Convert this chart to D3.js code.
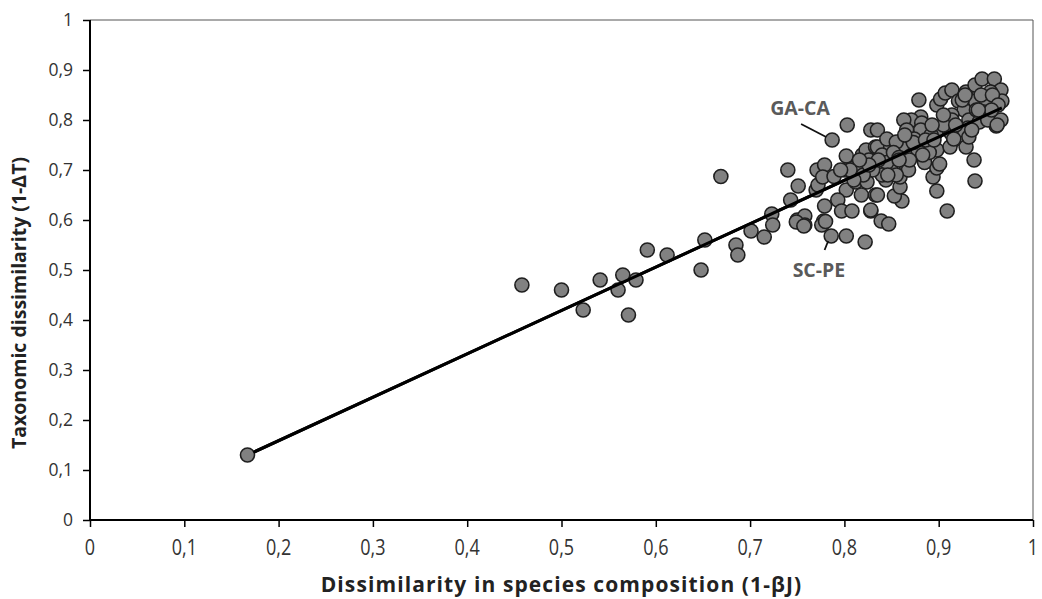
<!DOCTYPE html>
<html>
<head>
<meta charset="utf-8">
<script src="https://cdn.jsdelivr.net/npm/d3@7"></script>
<style>
  html, body { margin: 0; padding: 0; background: #fff; }
  svg { display: block; }
</style>
</head>
<body>
<svg id="chart" width="1042" height="599"></svg>
<script>
// ---------- data ----------
const xTicks = [0, 0.1, 0.2, 0.3, 0.4, 0.5, 0.6, 0.7, 0.8, 0.9, 1];
const yTicks = [0, 0.1, 0.2, 0.3, 0.4, 0.5, 0.6, 0.7, 0.8, 0.9, 1];
const xTitle = "Dissimilarity in species composition (1-βJ)";
const yTitle = "Taxonomic dissimilarity (1-ΔT)";

// species composition dissimilarity (x)
const xVals = [
  0.167, 0.458, 0.500, 0.523, 0.541, 0.560, 0.565, 0.571, 0.579, 0.591,
  0.612, 0.648, 0.652, 0.669, 0.685, 0.687, 0.701, 0.715, 0.723, 0.724,
  0.740, 0.743, 0.751, 0.750, 0.758, 0.758, 0.749, 0.757, 0.770, 0.772,
  0.771, 0.779, 0.777, 0.789, 0.779, 0.778, 0.776, 0.780, 0.786, 0.787,
  0.802, 0.801, 0.802, 0.793, 0.797, 0.808, 0.812, 0.819, 0.823, 0.812,
  0.824, 0.818, 0.828, 0.833, 0.833, 0.802, 0.822, 0.803, 0.9375, 0.9385,
  0.909, 0.898, 0.894, 0.898, 0.901, 0.861, 0.853, 0.835, 0.828, 0.839,
  0.847, 0.859, 0.859, 0.844, 0.837, 0.849, 0.866, 0.868, 0.885, 0.898,
  0.835, 0.849, 0.861, 0.877, 0.916, 0.929, 0.912, 0.833, 0.847, 0.879,
  0.898, 0.902, 0.907, 0.914, 0.921, 0.929, 0.9385, 0.946, 0.959, 0.9385,
  0.950, 0.966, 0.967, 0.955, 0.927, 0.914, 0.914, 0.948, 0.932, 0.943,
  0.966, 0.961, 0.931, 0.922, 0.913, 0.901, 0.897, 0.881, 0.871, 0.863,
  0.882, 0.866, 0.881, 0.874, 0.892, 0.916, 0.932, 0.828, 0.835, 0.845,
  0.855, 0.815, 0.826, 0.840, 0.845, 0.852, 0.858, 0.870, 0.878, 0.885,
  0.890, 0.873, 0.864, 0.855, 0.840, 0.830, 0.820, 0.810, 0.905, 0.918,
  0.925, 0.945, 0.957, 0.963, 0.952, 0.940, 0.928, 0.905, 0.893, 0.883,
  0.869, 0.858, 0.846, 0.836, 0.826, 0.816, 0.806, 0.796, 0.886, 0.895,
  0.956, 0.962, 0.935, 0.942
];
// taxonomic dissimilarity (y)
const yVals = [
  0.130, 0.470, 0.460, 0.420, 0.480, 0.460, 0.490, 0.410, 0.480, 0.540,
  0.530, 0.500, 0.560, 0.687, 0.550, 0.530, 0.578, 0.566, 0.612, 0.590,
  0.700, 0.640, 0.668, 0.600, 0.608, 0.590, 0.596, 0.588, 0.660, 0.670,
  0.700, 0.710, 0.686, 0.687, 0.628, 0.598, 0.590, 0.597, 0.568, 0.760,
  0.728, 0.700, 0.660, 0.640, 0.618, 0.618, 0.706, 0.730, 0.740, 0.676,
  0.676, 0.650, 0.618, 0.746, 0.650, 0.568, 0.556, 0.790, 0.720, 0.678,
  0.618, 0.658, 0.686, 0.704, 0.712, 0.638, 0.648, 0.650, 0.620, 0.598,
  0.592, 0.666, 0.686, 0.680, 0.700, 0.706, 0.706, 0.700, 0.726, 0.740,
  0.746, 0.746, 0.744, 0.760, 0.760, 0.746, 0.746, 0.720, 0.726, 0.840,
  0.830, 0.842, 0.854, 0.860, 0.838, 0.856, 0.870, 0.882, 0.882, 0.838,
  0.840, 0.860, 0.838, 0.856, 0.820, 0.810, 0.800, 0.816, 0.800, 0.796,
  0.800, 0.788, 0.784, 0.780, 0.774, 0.786, 0.774, 0.806, 0.800, 0.800,
  0.794, 0.780, 0.780, 0.762, 0.770, 0.762, 0.766, 0.780, 0.780, 0.762,
  0.756, 0.700, 0.720, 0.730, 0.715, 0.735, 0.725, 0.728, 0.740, 0.715,
  0.735, 0.755, 0.770, 0.690, 0.690, 0.700, 0.690, 0.680, 0.790, 0.790,
  0.840, 0.850, 0.850, 0.830, 0.800, 0.820, 0.850, 0.810, 0.790, 0.730,
  0.720, 0.720, 0.690, 0.720, 0.710, 0.720, 0.700, 0.700, 0.760, 0.760,
  0.820, 0.790, 0.780, 0.820
];

// regression line
const fitIntercept = -0.015;
const fitSlope = 0.868;
const fitX = [0.167, 0.967];

// labelled site pairs
const labelNames = ["GA-CA", "SC-PE"];
const labelPointX = [0.786, 0.786];
const labelPointY = [0.760, 0.568];
const labelTextX = [0.753, 0.773];
const labelTextY = [0.810, 0.486];

// ---------- drawing ----------
const svg = d3.select("#chart");
const margin = { left: 90, right: 9, top: 20, bottom: 79 };
const W = 1042, H = 599;
const x = d3.scaleLinear().domain([0, 1]).range([margin.left, W - margin.right]);
const y = d3.scaleLinear().domain([0, 1]).range([H - margin.bottom, margin.top]);
const fmt = d => (d === 0 || d === 1) ? String(d) : d3.format(".1f")(d).replace(".", ",");
const FONT = "'Open Sans', 'DejaVu Sans', sans-serif";

// frame (top & right thin)
svg.append("line").attr("x1", x(0)).attr("x2", x(1)).attr("y1", y(1)).attr("y2", y(1))
  .attr("stroke", "#555").attr("stroke-width", 1);
svg.append("line").attr("x1", x(1)).attr("x2", x(1)).attr("y1", y(1)).attr("y2", y(0))
  .attr("stroke", "#555").attr("stroke-width", 1);

// axes (labels of x axis drawn separately below)
const xAxis = d3.axisBottom(x).tickValues(xTicks).tickFormat("").tickSize(7);
const yAxis = d3.axisLeft(y).tickValues(yTicks).tickFormat(fmt).tickSize(7).tickPadding(10);

const gx = svg.append("g").attr("transform", `translate(0,${y(0)})`).call(xAxis);
const gy = svg.append("g").attr("transform", `translate(${x(0)},0)`).call(yAxis)
  .attr("font-size", 17.5).attr("font-family", FONT);
[gx, gy].forEach(g => {
  g.select(".domain").attr("stroke", "#000").attr("stroke-width", 2);
  g.selectAll(".tick line").attr("stroke", "#000").attr("stroke-width", 1.5);
  g.selectAll(".tick text").attr("fill", "#333");
});
gx.select(".domain").attr("d", `M${x(0)},0H${x(1)}`);
gy.select(".domain").attr("d", `M0,${y(0)}V${y(1)}`);

// x tick labels: tall, narrow
svg.append("g").selectAll("text").data(xTicks).join("text")
  .attr("transform", d => `translate(${x(d)},${y(0) + 35}) scale(0.82,1)`)
  .attr("text-anchor", "middle")
  .attr("font-family", "'Liberation Sans Narrow', 'Open Sans', sans-serif")
  .attr("font-size", 22).attr("fill", "#333")
  .text(fmt);

// regression line
svg.append("line")
  .attr("x1", x(fitX[0])).attr("y1", y(fitIntercept + fitSlope * fitX[0]))
  .attr("x2", x(fitX[1])).attr("y2", y(fitIntercept + fitSlope * fitX[1]))
  .attr("stroke", "#000").attr("stroke-width", 3);

// points
const pts = xVals.map((v, i) => ({ x: v, y: yVals[i] }));
svg.append("g").selectAll("circle").data(pts).join("circle")
  .attr("cx", d => x(d.x)).attr("cy", d => y(d.y)).attr("r", 7)
  .attr("fill", "#818181").attr("stroke", "#1f1f1f").attr("stroke-width", 1.6);

// line on top of points (as in the reference)
svg.append("line")
  .attr("x1", x(fitX[0]) + 6).attr("y1", y(fitIntercept + fitSlope * (fitX[0] + 6 / 944)))
  .attr("x2", x(fitX[1])).attr("y2", y(fitIntercept + fitSlope * fitX[1]))
  .attr("stroke", "#000").attr("stroke-width", 3);

// labels
labelNames.forEach((n, i) => {
  svg.append("text").attr("x", x(labelTextX[i])).attr("y", y(labelTextY[i]))
    .attr("text-anchor", "middle").attr("fill", "#5a5a5a")
    .style("font-family", FONT).style("font-weight", "bold").style("font-size", "19.5px")
    .text(n);
});
// leader lines
svg.append("line").attr("x1", x(0.753) + 1).attr("y1", y(0.792)).attr("x2", x(labelPointX[0]) - 5).attr("y2", y(labelPointY[0]) - 3)
  .attr("stroke", "#111").attr("stroke-width", 1.8);
svg.append("line").attr("x1", x(0.779)).attr("y1", y(0.540)).attr("x2", x(labelPointX[1]) - 3).attr("y2", y(labelPointY[1]) + 5)
  .attr("stroke", "#111").attr("stroke-width", 1.8);

// titles
svg.append("text").attr("x", (x(0) + x(1)) / 2).attr("y", 592).attr("text-anchor", "middle")
  .attr("fill", "#222").style("font-family", FONT).style("font-weight", "bold").style("font-size", "21px")
  .style("letter-spacing", "1.1px")
  .text(xTitle);
svg.append("text").attr("transform", `translate(26,${(y(0) + y(1)) / 2 + 33}) rotate(-90)`).attr("text-anchor", "middle")
  .attr("fill", "#222").style("font-family", FONT).style("font-weight", "bold").style("font-size", "19.5px")
  .text(yTitle);
</script>
</body>
</html>
